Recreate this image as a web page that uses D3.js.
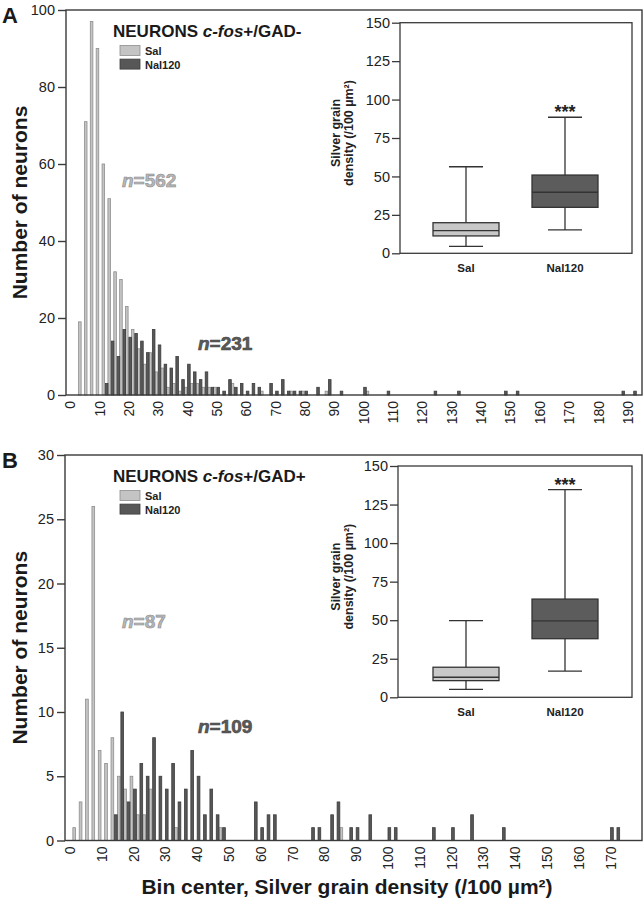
<!DOCTYPE html>
<html><head><meta charset="utf-8">
<script src="https://cdn.jsdelivr.net/npm/d3@7"></script>
<style>
body{margin:0;background:#fff}
svg{display:block}
text{font-family:"Liberation Sans",Arial,Helvetica,sans-serif}
</style>
</head><body>
<svg id="chart" width="644" height="900"></svg>
<script>
// ---------------- DATA ----------------
// Panel A : NEURONS c-fos+/GAD-  (bin centre -> number of neurons)
const aSalCenters = [4,6,8,10,12,14,16,18,20,22,24,26,28,30,32,34,36,38,40,42,44,46,48,50,56,66,76,80,88,102];
const aSalCounts  = [19,71,97,90,60,51,32,30,23,17,12,8,11,6,7,2,3,1,2,3,3,2,2,2,3,1,1,1,1,1];
const aNalCenters = [12,14,16,18,20,22,24,26,28,30,32,34,36,38,40,42,44,46,48,50,52,54,56,58,60,62,64,68,70,72,74,76,78,80,84,88,92,100,108,124,132,148,152,188,192];
const aNalCounts  = [3,14,10,17,15,16,14,11,17,13,8,7,10,4,8,6,4,6,2,2,1,4,2,3,1,3,2,3,1,4,1,1,1,1,2,4,1,2,1,1,1,1,1,1,1];
// Panel B : NEURONS c-fos+/GAD+
const bSalCenters = [2,4,6,8,10,12,14,16,18,20,22,24,26,34,48,86];
const bSalCounts  = [1,3,11,26,7,6,8,5,4,5,2,2,4,1,1,1];
const bNalCenters = [14,16,18,20,22,24,26,28,30,32,34,36,38,40,42,44,46,48,58,60,62,64,76,78,82,84,88,90,94,100,102,114,120,126,136,170,172];
const bNalCounts  = [2,10,3,4,6,5,8,5,4,6,3,4,7,5,2,4,2,1,3,1,2,2,1,1,2,3,1,1,2,1,1,1,1,2,1,1,1];

const xTicksA = d3.range(0, 191, 10);
const xTicksB = d3.range(0, 171, 10);
const yTicksA = [0,20,40,60,80,100];
const yTicksB = [0,5,10,15,20,25,30];
const insetTicks = [0,25,50,75,100,125,150];
const groups = ["Sal","Nal120"];
const nLabelsA = ["562","231"];
const nLabelsB = ["87","109"];
// box plots: [min, Q1, median, Q3, max]  (silver grain density /100 µm²)
const boxA = {Sal:[4.5,11.3,14.7,19.9,56.3], Nal120:[15.2,29.9,39.7,50.9,88.5]};
const boxB = {Sal:[5.2,10.8,13.0,19.5,49.7], Nal120:[17.0,38.0,49.5,63.7,134.7]};

// ---------------- STYLE ----------------
const LIGHT = "#c4c4c4", LIGHT_S = "#8e8e8e";
const DARK = "#575757", DARK_S = "#3c3c3c";
const AXIS = "#3a3a3a";

const svg = d3.select("#chart");

function panel(cfg){
  const g = svg.append("g");
  const x = d3.scaleLinear().domain([0, cfg.xMaxTick]).range(cfg.xRange);
  const y = d3.scaleLinear().domain([0, cfg.yMax]).range([cfg.bottom, cfg.top]);

  // bars
  const hw = cfg.barW;
  g.append("g").selectAll("rect").data(cfg.sal.centers.map((c,i)=>[c,cfg.sal.counts[i]]))
    .join("rect")
    .attr("x", d=>x(d[0]-hw)+0.4).attr("width", d=>x(hw)-x(0)-0.8)
    .attr("y", d=>y(d[1])).attr("height", d=>y(0)-y(d[1]))
    .attr("fill", LIGHT).attr("stroke", LIGHT_S).attr("stroke-width",0.8);
  g.append("g").selectAll("rect").data(cfg.nal.centers.map((c,i)=>[c,cfg.nal.counts[i]]))
    .join("rect")
    .attr("x", d=>x(d[0])+0.4).attr("width", d=>x(hw)-x(0)-0.8)
    .attr("y", d=>y(d[1])).attr("height", d=>y(0)-y(d[1]))
    .attr("fill", DARK).attr("stroke", DARK_S).attr("stroke-width",0.8);

  // frame
  g.append("rect").attr("x", cfg.left).attr("y", cfg.top)
    .attr("width", cfg.right-cfg.left).attr("height", cfg.bottom-cfg.top)
    .attr("fill","none").attr("stroke",AXIS).attr("stroke-width",1.4);

  // y axis
  const ya = g.append("g").attr("transform",`translate(${cfg.left},0)`)
    .call(d3.axisLeft(y).tickValues(cfg.yTicks).tickSize(8).tickPadding(3));
  ya.select(".domain").remove();
  ya.selectAll("line").attr("stroke",AXIS).attr("stroke-width",1.4);
  ya.selectAll("text").attr("font-size",14.5).attr("fill","#222").style("font-family",'"Liberation Sans",Arial,sans-serif');

  // x axis
  const xa = g.append("g").attr("transform",`translate(0,${cfg.bottom})`)
    .call(d3.axisBottom(x).tickValues(cfg.xTicks).tickSize(0));
  xa.select(".domain").remove();
  xa.selectAll("text").attr("transform","rotate(-90)")
    .attr("x",-6).attr("y",0).attr("dy","0.35em").attr("text-anchor","end")
    .attr("font-size",14).attr("fill","#222").style("font-family",'"Liberation Sans",Arial,sans-serif');

  // y title
  g.append("text").attr("transform",`translate(27,${(cfg.top+cfg.bottom)/2}) rotate(-90)`)
    .attr("text-anchor","middle").attr("font-size",21).attr("font-weight","bold").attr("fill","#1a1a1a")
    .text("Number of neurons");

  // panel letter
  g.append("text").attr("x",2).attr("y",cfg.top+13).attr("font-size",22).attr("font-weight","bold")
    .attr("fill","#1a1a1a").text(cfg.letter);

  // title
  const t = g.append("text").attr("x",113).attr("y",cfg.top+27).attr("font-size",17)
    .attr("font-weight","bold").attr("fill","#1a1a1a");
  t.append("tspan").text("NEURONS ");
  t.append("tspan").attr("font-style","italic").text("c-fos");
  t.append("tspan").text(cfg.titleEnd);

  // legend
  const lg = g.append("g").attr("transform",`translate(120,${cfg.top+35.5})`);
  groups.forEach((s,i)=>{
    lg.append("rect").attr("x",0).attr("y",i*13.6).attr("width",20).attr("height",10)
      .attr("fill", i? DARK: LIGHT).attr("stroke", i? DARK_S: LIGHT_S).attr("stroke-width",0.8);
    lg.append("text").attr("x",25).attr("y",i*13.6+9.5).attr("font-size",11).attr("font-weight","bold")
      .attr("fill","#222").text(s);
  });

  // n labels
  cfg.nLabels.forEach((lab,i)=>{
    const p = cfg.nPos[i];
    const tx = g.append("text").attr("x",p[0]).attr("y",p[1]).attr("font-size",19).attr("font-weight","bold")
      .attr("fill", i? "#5a5a5a" : "#b8b8b8").attr("stroke", i? "#454545":"#8a8a8a").attr("stroke-width",0.6);
    tx.append("tspan").attr("font-style","italic").text("n");
    tx.append("tspan").text("=" + lab);
  });

  // inset
  const ins = cfg.inset;
  const iy = d3.scaleLinear().domain([0,150]).range([ins.bottom, ins.top]);
  const ix = d3.scalePoint().domain(groups).range([466,565]);
  const ig = g.append("g");
  ig.append("rect").attr("x",ins.left).attr("y",ins.top).attr("width",ins.right-ins.left)
    .attr("height",ins.bottom-ins.top).attr("fill","#fff").attr("stroke",AXIS).attr("stroke-width",1.3);
  const iya = ig.append("g").attr("transform",`translate(${ins.left},0)`)
    .call(d3.axisLeft(iy).tickValues(insetTicks).tickSize(8).tickPadding(2));
  iya.select(".domain").remove();
  iya.selectAll("line").attr("stroke",AXIS).attr("stroke-width",1.3);
  iya.selectAll("text").attr("font-size",14.5).attr("fill","#222").style("font-family",'"Liberation Sans",Arial,sans-serif');
  groups.forEach(k=>{
    const v = ins.data[k], cx = ix(k);
    ig.append("line").attr("x1",cx).attr("x2",cx).attr("y1",iy(v[0])).attr("y2",iy(v[4]))
      .attr("stroke","#333").attr("stroke-width",1.3);
    [v[0],v[4]].forEach(w=>ig.append("line").attr("x1",cx-17).attr("x2",cx+17).attr("y1",iy(w)).attr("y2",iy(w))
      .attr("stroke","#333").attr("stroke-width",1.3));
    ig.append("rect").attr("x",cx-33).attr("width",66).attr("y",iy(v[3])).attr("height",iy(v[1])-iy(v[3]))
      .attr("fill", k==="Sal"? "#c8c8c8":"#5c5c5c").attr("stroke","#333").attr("stroke-width",1.3);
    ig.append("line").attr("x1",cx-33).attr("x2",cx+33).attr("y1",iy(v[2])).attr("y2",iy(v[2]))
      .attr("stroke","#333").attr("stroke-width",1.3);
    ig.append("text").attr("x",cx).attr("y",ins.bottom+18.5).attr("text-anchor","middle")
      .attr("font-size",11.5).attr("font-weight","bold").attr("fill","#222").text(k);
  });
  const wTop = iy(ins.data.Nal120[4]);
  ig.append("text").attr("x",ix("Nal120")).attr("y",wTop+1).attr("text-anchor","middle")
    .attr("font-size",18).attr("font-weight","bold").attr("fill","#222").text("***");
  const cyl = (ins.top+ins.bottom)/2 - 5;
  ig.append("text").attr("transform",`translate(340,${cyl}) rotate(-90)`).attr("text-anchor","middle")
    .attr("font-size",12.5).attr("font-weight","bold").attr("fill","#222").text("Silver grain");
  ig.append("text").attr("transform",`translate(353,${cyl}) rotate(-90)`).attr("text-anchor","middle")
    .attr("font-size",12.5).attr("font-weight","bold").attr("fill","#222").text("density (/100 µm²)");
}

panel({
  letter:"A", titleEnd:"+/GAD-",
  left:66, right:642, top:10, bottom:395, yMax:100, yTicks:yTicksA,
  xMaxTick:190, xRange:[69.8, 69.8+190*2.935], xTicks:xTicksA, barW:1.15,
  sal:{centers:aSalCenters, counts:aSalCounts}, nal:{centers:aNalCenters, counts:aNalCounts},
  nLabels:nLabelsA, nPos:[[122,187],[198,350]],
  inset:{left:400, right:632, top:22.7, bottom:253.3, data:boxA}
});
panel({
  letter:"B", titleEnd:"+/GAD+",
  left:65, right:642, top:455, bottom:840.5, yMax:30, yTicks:yTicksB,
  xMaxTick:170, xRange:[69.6, 69.6+170*3.18], xTicks:xTicksB, barW:1.1,
  sal:{centers:bSalCenters, counts:bSalCounts}, nal:{centers:bNalCenters, counts:bNalCounts},
  nLabels:nLabelsB, nPos:[[122,628],[198,733]],
  inset:{left:398, right:632, top:466, bottom:697.3, data:boxB}
});

svg.append("text").attr("x",347).attr("y",894).attr("text-anchor","middle")
  .attr("font-size",21).attr("font-weight","bold").attr("fill","#1a1a1a")
  .text("Bin center, Silver grain density (/100 µm²)");
</script>
</body></html>
